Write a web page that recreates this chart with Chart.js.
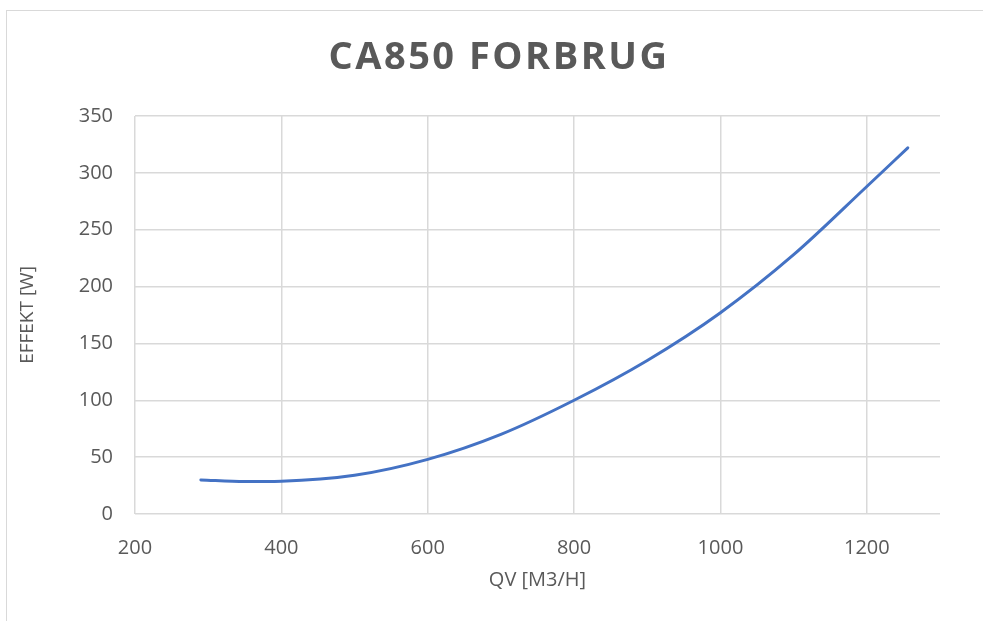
<!DOCTYPE html>
<html>
<head>
<meta charset="utf-8">
<script src="https://cdn.jsdelivr.net/npm/chart.js@4.4.1/dist/chart.umd.min.js"></script>
<style>
    body { margin: 0; background: #fff; }
    #wrap { position: relative; width: 983px; height: 621px; overflow: hidden; }
    #frame { position: absolute; left: 6px; top: 10px; width: 1200px; height: 800px; border: 1px solid #d9d9d9; }
    #myChart { position: absolute; left: 0; top: 0; }
</style>
</head>
<body>
<div id="wrap">
    <div id="frame"></div>
    <canvas id="myChart" width="983" height="621"></canvas>
</div>
<script>
const qv = [290, 350, 400, 500, 600, 700, 800, 900, 1000, 1100, 1200, 1256];
const effekt = [30, 28.5, 28.8, 34, 48, 70, 100, 135, 177, 228, 288, 322];
const xTicks = [200, 400, 600, 800, 1000, 1200];
const chartTitle = 'CA850 FORBRUG';

const grey = '#595959';
const gridColor = '#d9d9d9';

// title centred on the whole frame, with a bit of letter spacing
const spacedTitle = {
    id: 'spacedTitle',
    afterDraw(chart) {
        const c = chart.ctx;
        c.save();
        c.font = 'bold 38px "Open Sans"';
        c.fillStyle = grey;
        c.letterSpacing = '2.5px';
        c.textAlign = 'center';
        c.textBaseline = 'middle';
        c.fillText(chartTitle, 499, 58);
        c.restore();
    }
};

const ctx = document.getElementById('myChart').getContext('2d');
const myChart = new Chart(ctx, {
    type: 'line',
    data: {
        datasets: [{
            label: 'CA850',
            data: qv.map((x, i) => ({ x: x, y: effekt[i] })),
            borderColor: '#4472c4',
            borderWidth: 3,
            borderCapStyle: 'round',
            pointRadius: 0,
            fill: false,
            cubicInterpolationMode: 'monotone',
        }]
    },
    plugins: [spacedTitle],
    options: {
        responsive: false,
        animation: false,
        layout: { padding: { left: 0, right: 43, top: 116, bottom: 0 } },
        plugins: {
            legend: { display: false },
            tooltip: { enabled: false },
            title: { display: false }
        },
        scales: {
            x: {
                type: 'linear',
                min: 200,
                max: 1300,
                afterBuildTicks: (scale) => {
                    scale.ticks = xTicks.map(v => ({ value: v }));
                },
                afterFit: (scale) => { scale.height = 107; },
                grid: { color: gridColor, lineWidth: 1.5, drawTicks: false },
                border: { display: false },
                ticks: {
                    color: grey,
                    padding: 22,
                    font: { family: 'Open Sans', size: 20 },
                    callback: (v) => String(v),
                },
                title: {
                    display: true,
                    text: 'QV [M3/H]',
                    color: grey,
                    font: { family: 'Open Sans', size: 20 },
                    padding: { top: 0, bottom: 29 },
                }
            },
            y: {
                min: 0,
                max: 350,
                afterFit: (scale) => { scale.width = 135; },
                grid: { color: gridColor, lineWidth: 1.5, drawTicks: false },
                border: { display: false },
                ticks: {
                    stepSize: 50,
                    color: grey,
                    padding: 22,
                    font: { family: 'Open Sans', size: 20 },
                    callback: (v) => String(v),
                },
                title: {
                    display: true,
                    text: 'EFFEKT [W]',
                    color: grey,
                    font: { family: 'Open Sans', size: 19 },
                    padding: { top: 16, bottom: 0 },
                }
            }
        }
    }
});
</script>
</body>
</html>
